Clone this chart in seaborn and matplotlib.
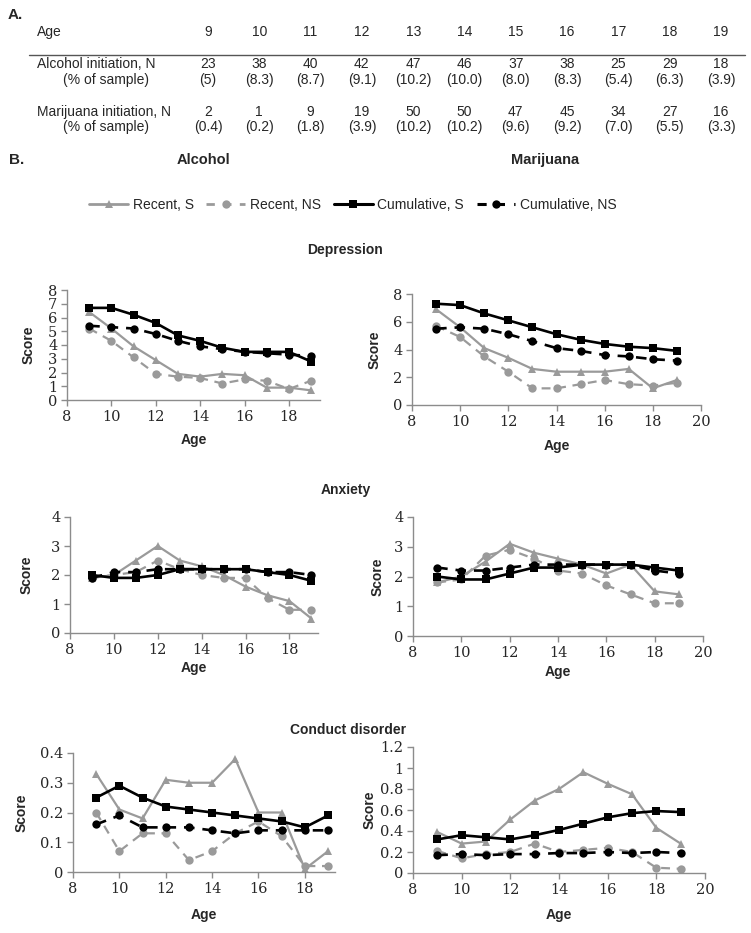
import matplotlib
matplotlib.use("Agg")
import matplotlib.pyplot as plt
import seaborn as sns
import pandas as pd
from matplotlib.lines import Line2D
from matplotlib.ticker import FuncFormatter

# ---------------- data ----------------
ages = [9, 10, 11, 12, 13, 14, 15, 16, 17, 18, 19]
alc_n = [23, 38, 40, 42, 47, 46, 37, 38, 25, 29, 18]
alc_pct = ["(5)", "(8.3)", "(8.7)", "(9.1)", "(10.2)", "(10.0)", "(8.0)", "(8.3)", "(5.4)", "(6.3)", "(3.9)"]
mj_n = [2, 1, 9, 19, 50, 50, 47, 45, 34, 27, 16]
mj_pct = ["(0.4)", "(0.2)", "(1.8)", "(3.9)", "(10.2)", "(10.2)", "(9.6)", "(9.2)", "(7.0)", "(5.5)", "(3.3)"]

series_names = ["Recent, S", "Recent, NS", "Cumulative, S", "Cumulative, NS"]

# Depression
dep_alc_recent_s = [6.4, 5.2, 3.9, 2.9, 1.9, 1.7, 1.9, 1.8, 0.9, 0.9, 0.7]
dep_alc_recent_ns = [5.2, 4.3, 3.1, 1.9, 1.7, 1.6, 1.2, 1.5, 1.4, 0.8, 1.4]
dep_alc_cum_s = [6.7, 6.7, 6.2, 5.6, 4.7, 4.3, 3.8, 3.5, 3.5, 3.5, 2.8]
dep_alc_cum_ns = [5.4, 5.3, 5.2, 4.8, 4.3, 3.9, 3.7, 3.5, 3.4, 3.3, 3.2]

dep_mj_recent_s = [6.9, 5.6, 4.1, 3.4, 2.6, 2.4, 2.4, 2.4, 2.6, 1.2, 1.8]
dep_mj_recent_ns = [5.7, 4.9, 3.5, 2.4, 1.2, 1.2, 1.5, 1.8, 1.5, 1.4, 1.6]
dep_mj_cum_s = [7.3, 7.2, 6.6, 6.1, 5.6, 5.1, 4.7, 4.4, 4.2, 4.1, 3.9]
dep_mj_cum_ns = [5.5, 5.6, 5.5, 5.1, 4.6, 4.1, 3.9, 3.6, 3.5, 3.3, 3.2]

# Anxiety
anx_alc_recent_s = [1.9, 2.0, 2.5, 3.0, 2.5, 2.3, 2.0, 1.6, 1.3, 1.1, 0.5]
anx_alc_recent_ns = [1.9, 2.0, 2.1, 2.5, 2.2, 2.0, 1.9, 1.9, 1.2, 0.8, 0.8]
anx_alc_cum_s = [2.0, 1.9, 1.9, 2.0, 2.2, 2.2, 2.2, 2.2, 2.1, 2.0, 1.8]
anx_alc_cum_ns = [1.9, 2.1, 2.1, 2.2, 2.2, 2.2, 2.2, 2.2, 2.1, 2.1, 2.0]

anx_mj_recent_s = [1.8, 2.0, 2.5, 3.1, 2.8, 2.6, 2.4, 2.1, 2.4, 1.5, 1.4]
anx_mj_recent_ns = [1.8, 1.9, 2.7, 2.9, 2.6, 2.2, 2.1, 1.7, 1.4, 1.1, 1.1]
anx_mj_cum_s = [2.0, 1.9, 1.9, 2.1, 2.3, 2.3, 2.4, 2.4, 2.4, 2.3, 2.2]
anx_mj_cum_ns = [2.3, 2.2, 2.2, 2.3, 2.4, 2.4, 2.4, 2.4, 2.4, 2.2, 2.1]

# Conduct disorder
cd_alc_recent_s = [0.33, 0.21, 0.18, 0.31, 0.30, 0.30, 0.38, 0.20, 0.20, 0.01, 0.07]
cd_alc_recent_ns = [0.20, 0.07, 0.13, 0.13, 0.04, 0.07, 0.13, 0.17, 0.12, 0.02, 0.02]
cd_alc_cum_s = [0.25, 0.29, 0.25, 0.22, 0.21, 0.20, 0.19, 0.18, 0.17, 0.15, 0.19]
cd_alc_cum_ns = [0.16, 0.19, 0.15, 0.15, 0.15, 0.14, 0.13, 0.14, 0.14, 0.14, 0.14]

cd_mj_recent_s = [0.39, 0.28, 0.30, 0.51, 0.69, 0.80, 0.96, 0.85, 0.75, 0.43, 0.28]
cd_mj_recent_ns = [0.21, 0.14, 0.18, 0.20, 0.28, 0.20, 0.22, 0.24, 0.20, 0.05, 0.04]
cd_mj_cum_s = [0.32, 0.36, 0.34, 0.32, 0.36, 0.41, 0.47, 0.53, 0.57, 0.59, 0.58]
cd_mj_cum_ns = [0.17, 0.18, 0.17, 0.18, 0.18, 0.19, 0.19, 0.20, 0.19, 0.20, 0.19]

# ---------------- style ----------------
sns.set_style("ticks")
plt.rcParams["font.family"] = ["Liberation Sans", "DejaVu Sans"]

W, H = 751, 933
fig = plt.figure(figsize=(W / 100, H / 100), dpi=100)

GRAY = "#9a9a9a"
BLACK = "#000000"
palette = {"Recent, S": GRAY, "Recent, NS": GRAY, "Cumulative, S": BLACK, "Cumulative, NS": BLACK}
markers = {"Recent, S": "^", "Recent, NS": "o", "Cumulative, S": "s", "Cumulative, NS": "o"}
dashes = {"Recent, S": "", "Recent, NS": (4, 3), "Cumulative, S": "", "Cumulative, NS": (4, 3)}
lwidths = {"Recent, S": 1.6, "Recent, NS": 1.6, "Cumulative, S": 1.9, "Cumulative, NS": 1.9}


def px_rect(left, right, bottom, top):
    return [left / W, 1 - bottom / H, (right - left) / W, (bottom - top) / H]


def panel(rect, xlim, xticks, ylim, yticks, vals, score_x, age_y):
    ax = fig.add_axes(px_rect(*rect))
    df = pd.concat(
        [pd.DataFrame({"Age": ages, "Score": v, "Series": n}) for n, v in zip(series_names, vals)],
        ignore_index=True,
    )
    sns.lineplot(data=df, x="Age", y="Score", hue="Series", style="Series",
                 palette=palette, markers=markers, dashes=dashes,
                 hue_order=series_names, style_order=series_names,
                 markersize=6, markeredgewidth=0, linewidth=1.8, legend=False, ax=ax)
    for line, n in zip(ax.get_lines(), series_names):
        line.set_linewidth(lwidths[n])
        line.set_zorder(3 if n.startswith("Cum") else 2)
    ax.set_xlim(*xlim)
    ax.set_ylim(*ylim)
    ax.set_xticks(xticks)
    ax.set_yticks(yticks)
    ax.yaxis.set_major_formatter(FuncFormatter(lambda v, p: ("%g" % round(v, 3))))
    sns.despine(ax=ax)
    for s in ("left", "bottom"):
        ax.spines[s].set_color("#8c8c8c")
        ax.spines[s].set_linewidth(1.0)
    ax.tick_params(axis="both", direction="out", length=4, width=1.0, color="#8c8c8c", pad=3)
    for lab in ax.get_xticklabels() + ax.get_yticklabels():
        lab.set_family(["DejaVu Serif"])
        lab.set_fontsize(10.5)
    ax.set_xlabel("Age", fontsize=10, fontweight="bold")
    ax.set_ylabel("Score", fontsize=10, fontweight="bold")
    left, right, bottom, top = rect
    ax.yaxis.set_label_coords((score_x - left) / (right - left), 0.5)
    ax.xaxis.set_label_coords(0.5, -(age_y - bottom) / (bottom - top))
    ax.xaxis.label.set_verticalalignment("center")
    ax.yaxis.label.set_verticalalignment("center")
    return ax


alc_xt = [8, 10, 12, 14, 16, 18]
mj_xt = [8, 10, 12, 14, 16, 18, 20]

panel((67, 320, 400, 290), (8, 19.4), alc_xt, (0, 8), list(range(0, 9)),
      [dep_alc_recent_s, dep_alc_recent_ns, dep_alc_cum_s, dep_alc_cum_ns], 29, 440)
panel((412, 701, 405, 294), (8, 20), mj_xt, (0, 8), [0, 2, 4, 6, 8],
      [dep_mj_recent_s, dep_mj_recent_ns, dep_mj_cum_s, dep_mj_cum_ns], 375, 446)
panel((70, 318, 633, 517), (8, 19.3), alc_xt, (0, 4), [0, 1, 2, 3, 4],
      [anx_alc_recent_s, anx_alc_recent_ns, anx_alc_cum_s, anx_alc_cum_ns], 27, 668)
panel((413, 703, 636, 517), (8, 20), mj_xt, (0, 4), [0, 1, 2, 3, 4],
      [anx_mj_recent_s, anx_mj_recent_ns, anx_mj_cum_s, anx_mj_cum_ns], 378, 672)
panel((73, 335, 872, 753), (8, 19.3), alc_xt, (0, 0.4), [0, 0.1, 0.2, 0.3, 0.4],
      [cd_alc_recent_s, cd_alc_recent_ns, cd_alc_cum_s, cd_alc_cum_ns], 22, 915)
panel((413, 705, 873, 747), (8, 20), mj_xt, (0, 1.2), [0, 0.2, 0.4, 0.6, 0.8, 1.0, 1.2],
      [cd_mj_recent_s, cd_mj_recent_ns, cd_mj_cum_s, cd_mj_cum_ns], 370, 915)


# ---------------- titles ----------------
def ftext(x, y, s, **kw):
    fig.text(x / W, 1 - y / H, s, **kw)


ftext(345, 250, "Depression", ha="center", va="center", fontsize=10, fontweight="bold")
ftext(346, 490, "Anxiety", ha="center", va="center", fontsize=10, fontweight="bold")
ftext(348, 730, "Conduct disorder", ha="center", va="center", fontsize=10, fontweight="bold")

ftext(8, 15, "A.", ha="left", va="center", fontsize=11, fontweight="bold")
ftext(9, 160, "B.", ha="left", va="center", fontsize=11, fontweight="bold")
ftext(203, 160, "Alcohol", ha="center", va="center", fontsize=10.5, fontweight="bold")
ftext(545, 160, "Marijuana", ha="center", va="center", fontsize=10.5, fontweight="bold")

# ---------------- table ----------------
col_x = [208 + 51.3 * i for i in range(len(ages))]
ftext(37, 32, "Age", ha="left", va="center", fontsize=10)
for x, a in zip(col_x, ages):
    ftext(x, 32, str(a), ha="center", va="center", fontsize=10)
fig.add_artist(Line2D([29 / W, 745 / W], [1 - 55 / H, 1 - 55 / H], color="#555555", lw=1.0))
ftext(37, 64, "Alcohol initiation, N", ha="left", va="center", fontsize=10)
ftext(63, 80, "(% of sample)", ha="left", va="center", fontsize=10)
for x, n, p in zip(col_x, alc_n, alc_pct):
    ftext(x, 64, str(n), ha="center", va="center", fontsize=10)
    ftext(x, 80, p, ha="center", va="center", fontsize=10)
ftext(37, 112, "Marijuana initiation, N", ha="left", va="center", fontsize=10)
ftext(63, 127, "(% of sample)", ha="left", va="center", fontsize=10)
for x, n, p in zip(col_x, mj_n, mj_pct):
    ftext(x, 112, str(n), ha="center", va="center", fontsize=10)
    ftext(x, 127, p, ha="center", va="center", fontsize=10)

# ---------------- legend ----------------
handles = [
    Line2D([], [], color=GRAY, lw=2.0, marker="^", markersize=6, mew=0),
    Line2D([], [], color=GRAY, lw=2.0, marker="o", markersize=6, mew=0, dashes=(3, 3)),
    Line2D([], [], color=BLACK, lw=2.2, marker="s", markersize=6, mew=0),
    Line2D([], [], color=BLACK, lw=2.2, marker="o", markersize=6, mew=0, dashes=(3, 3)),
]
fig.legend(handles, series_names, loc="center", bbox_to_anchor=(353 / W, 1 - 205 / H),
           ncol=4, frameon=False, fontsize=10, handlelength=2.8, columnspacing=0.9,
           handletextpad=0.35)

fig.savefig("out.png", dpi=100)
